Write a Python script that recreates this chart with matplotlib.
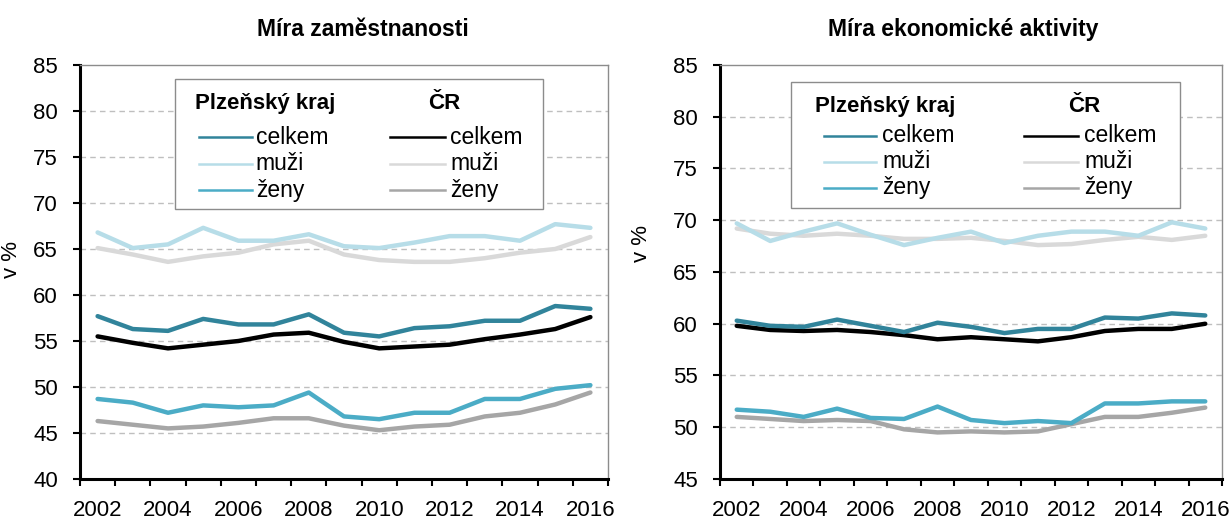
import numpy as np
import matplotlib
matplotlib.use("Agg")
import matplotlib.pyplot as plt
from matplotlib.patches import Rectangle
from matplotlib.lines import Line2D

plt.rcParams["font.family"] = ["Liberation Sans", "DejaVu Sans"]

# Data -----------------------------------------------------------------
years = list(range(2002, 2017))
year_labels = [str(y) for y in years[::2]]

# Míra zaměstnanosti (v %)
zam_plzen_celkem = [57.7, 56.3, 56.1, 57.4, 56.8, 56.8, 57.9, 55.9, 55.5, 56.4, 56.6, 57.2, 57.2, 58.8, 58.5]
zam_plzen_muzi = [66.8, 65.1, 65.5, 67.3, 65.9, 65.9, 66.6, 65.3, 65.1, 65.7, 66.4, 66.4, 65.9, 67.7, 67.3]
zam_plzen_zeny = [48.7, 48.3, 47.2, 48.0, 47.8, 48.0, 49.4, 46.8, 46.5, 47.2, 47.2, 48.7, 48.7, 49.8, 50.2]
zam_cr_celkem = [55.5, 54.8, 54.2, 54.6, 55.0, 55.7, 55.9, 54.9, 54.2, 54.4, 54.6, 55.2, 55.7, 56.3, 57.6]
zam_cr_muzi = [65.1, 64.4, 63.6, 64.2, 64.6, 65.5, 65.9, 64.4, 63.8, 63.6, 63.6, 64.0, 64.6, 65.0, 66.3]
zam_cr_zeny = [46.3, 45.9, 45.5, 45.7, 46.1, 46.6, 46.6, 45.8, 45.3, 45.7, 45.9, 46.8, 47.2, 48.1, 49.4]

# Míra ekonomické aktivity (v %)
akt_plzen_celkem = [60.3, 59.8, 59.7, 60.4, 59.8, 59.2, 60.1, 59.7, 59.1, 59.5, 59.5, 60.6, 60.5, 61.0, 60.8]
akt_plzen_muzi = [69.7, 68.0, 68.9, 69.7, 68.6, 67.6, 68.3, 68.9, 67.8, 68.5, 68.9, 68.9, 68.5, 69.8, 69.2]
akt_plzen_zeny = [51.7, 51.5, 51.0, 51.8, 50.9, 50.8, 52.0, 50.7, 50.4, 50.6, 50.4, 52.3, 52.3, 52.5, 52.5]
akt_cr_celkem = [59.8, 59.4, 59.3, 59.4, 59.2, 58.9, 58.5, 58.7, 58.5, 58.3, 58.7, 59.3, 59.5, 59.5, 60.0]
akt_cr_muzi = [69.2, 68.7, 68.5, 68.7, 68.5, 68.2, 68.2, 68.3, 68.0, 67.6, 67.7, 68.1, 68.4, 68.1, 68.5]
akt_cr_zeny = [51.0, 50.8, 50.6, 50.7, 50.6, 49.8, 49.5, 49.6, 49.5, 49.6, 50.3, 51.0, 51.0, 51.4, 51.9]

series_names = ["celkem", "muži", "ženy"]
plzen_colors = ["#31849b", "#b7dde8", "#4bacc6"]
cr_colors = ["#000000", "#d9d9d9", "#a6a6a6"]

# Figure ---------------------------------------------------------------
fig = plt.figure(figsize=(12.31, 5.24), dpi=100)
ax1 = fig.add_axes([80 / 1231, 1 - 479 / 524, 528 / 1231, 414 / 524])
ax2 = fig.add_axes([720 / 1231, 1 - 479 / 524, 502 / 1231, 414 / 524])

x = np.arange(len(years))


def draw_panel(ax, title, title_x, plzen, cr, ylim, ylabel_y, ylabel_x, leg):
    for vals, c in zip(cr, cr_colors):
        ax.plot(x, vals, color=c, lw=3.2, solid_capstyle="round", zorder=3)
    for vals, c in zip(plzen, plzen_colors):
        ax.plot(x, vals, color=c, lw=3.2, solid_capstyle="round", zorder=3)

    ax.set_xlim(-0.5, len(years) - 0.5)
    ax.set_ylim(*ylim)
    yt = np.arange(ylim[0], ylim[1] + 1, 5)
    ax.set_yticks(yt)
    ax.set_yticklabels([str(v) for v in yt])
    for v in yt[1:-1]:
        ax.axhline(v, color="#bfbfbf", lw=1, ls=(0, (4, 3)), zorder=1)

    # category boundaries as ticks, year labels centred under every other category
    ax.set_xticks(np.arange(-0.5, len(years), 1))
    ax.set_xticklabels([])
    ax.set_xticks(x[::2], year_labels, minor=True)
    ax.tick_params(axis="x", which="major", direction="out", length=5, width=1.5)
    ax.tick_params(axis="x", which="minor", length=0, pad=15, labelsize=16)
    ax.tick_params(axis="y", direction="out", length=5, width=1.5, pad=11, labelsize=16)

    for s in ["left", "bottom"]:
        ax.spines[s].set_color("black")
        ax.spines[s].set_linewidth(2.2)
    for s in ["top", "right"]:
        ax.spines[s].set_color("#8c8c8c")
        ax.spines[s].set_linewidth(1)

    ax.set_ylabel("v %", fontsize=16)
    ax.yaxis.set_label_coords(ylabel_x, ylabel_y)
    ax.set_title(title, fontsize=16.5, fontweight="bold", x=title_x, pad=21)

    # legend box (drawn by hand to get the two-column layout)
    bx0, bx1, by0, by1 = leg["box"]
    ax.add_patch(Rectangle((bx0, by0), bx1 - bx0, by1 - by0, transform=ax.transAxes,
                           facecolor="white", edgecolor="#8c8c8c", lw=1, zorder=5))
    ax.text(leg["hx"], leg["hy"], "Plzeňský kraj", transform=ax.transAxes,
            fontsize=16, fontweight="bold", va="center", ha="left", zorder=6)
    ax.text(leg["crx"], leg["hy"], "ČR", transform=ax.transAxes,
            fontsize=16, fontweight="bold", va="center", ha="center", zorder=6)
    for ry, name, pc, cc in zip(leg["rows"], series_names, plzen_colors, cr_colors):
        for (h0, h1, tx), col in zip(leg["cols"], [pc, cc]):
            ax.add_line(Line2D([h0, h1], [ry, ry], color=col, lw=1.8,
                               transform=ax.transAxes, zorder=6))
            ax.text(tx, ry, name, transform=ax.transAxes, fontsize=16.5,
                    va="center", ha="left", zorder=6)


draw_panel(ax1, "Míra zaměstnanosti", 0.535,
           [zam_plzen_celkem, zam_plzen_muzi, zam_plzen_zeny],
           [zam_cr_celkem, zam_cr_muzi, zam_cr_zeny],
           (40, 85), 0.53, -0.11,
           dict(box=(0.180, 0.877, 0.652, 0.966), hx=0.218, hy=0.908, crx=0.689,
                rows=[0.826, 0.761, 0.698],
                cols=[(0.225, 0.326, 0.333), (0.587, 0.691, 0.701)]))

draw_panel(ax2, "Míra ekonomické aktivity", 0.485,
           [akt_plzen_celkem, akt_plzen_muzi, akt_plzen_zeny],
           [akt_cr_celkem, akt_cr_muzi, akt_cr_zeny],
           (45, 85), 0.57, -0.135,
           dict(box=(0.141, 0.916, 0.655, 0.959), hx=0.189, hy=0.899, crx=0.725,
                rows=[0.829, 0.766, 0.703],
                cols=[(0.207, 0.311, 0.323), (0.606, 0.713, 0.725)]))

fig.savefig("out.png", dpi=100)
